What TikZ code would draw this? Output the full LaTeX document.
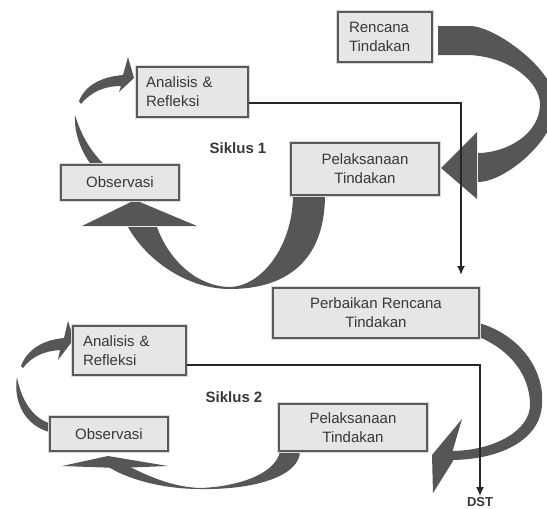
\documentclass[tikz,border=0pt]{standalone}
\usepackage{fontspec}
\setmainfont{Liberation Sans}
\usetikzlibrary{arrows.meta}
\definecolor{boxfill}{HTML}{E6E6E6}
\definecolor{boxedge}{HTML}{5A5A5A}
\definecolor{arrgray}{HTML}{565656}
\definecolor{linecol}{HTML}{262626}
\definecolor{txt}{HTML}{383838}
\begin{document}
\begin{tikzpicture}[x=1pt,y=-1pt,
  box/.style={fill=boxfill, draw=boxedge, line width=1.3pt,
    preaction={draw=black!15, line width=3.5pt},
    inner sep=0pt, font=\fontsize{15}{19}\selectfont, text=txt, align=center},
  leftbox/.style={box, align=left},
  bigarrow/.style={fill=arrgray},
  conn/.style={draw=linecol, line width=1.9pt, -{Latex[length=9pt,width=8pt]}},
  lbl/.style={font=\fontsize{15}{18}\selectfont\bfseries, text=txt}
]
\useasboundingbox (0,0) rectangle (547,509);

% ---- big curved arrows (drawn first) ----
% Rencana -> Pelaksanaan (siklus 1)
\fill[bigarrow] (438,26) -- (470,26) .. controls (495,26) and (556,70) .. (556,104)
  .. controls (556,140) and (505,182) .. (478,182) -- (478,153)
  .. controls (505,153) and (540,135) .. (540,104)
  .. controls (540,85) and (515,58) .. (470,55) -- (438,55) -- cycle;
\fill[bigarrow] (441,168) -- (477,132) -- (477,199) -- cycle;

% Pelaksanaan -> Observasi (siklus 1)
\fill[bigarrow] (325,195) .. controls (325,262) and (285,289) .. (230,289)
  .. controls (185,289) and (145,258) .. (128,227) -- (157,227)
  .. controls (168,258) and (195,286) .. (229,287)
  .. controls (262,287) and (293,245) .. (293,195) -- cycle;
\fill[bigarrow] (82,226) -- (135,200) -- (197,226) -- cycle;

% Observasi -> Analisis (siklus 1)
\fill[bigarrow] (92,166) .. controls (80,150) and (74,132) .. (75,115)
  .. controls (80,132) and (90,152) .. (106,166) -- cycle;
\fill[bigarrow] (79,101) .. controls (85,86) and (100,77) .. (123,75) -- (128,57)
  -- (134,78) -- (119,92) -- (121,86) .. controls (103,86) and (90,93) .. (81,104) -- cycle;

% Perbaikan -> Pelaksanaan (siklus 2)
\fill[bigarrow] (479,323) .. controls (520,335) and (545,370) .. (542,405)
  .. controls (540,440) and (500,460) .. (450,460) -- (450,451)
  .. controls (495,451) and (530,430) .. (530,405)
  .. controls (530,375) and (510,350) .. (479,337) -- cycle;
\fill[bigarrow] (432,455) -- (462,419) -- (452,453) -- (453,461) -- (433,493) -- cycle;

% Pelaksanaan -> Observasi (siklus 2)
\fill[bigarrow] (300,451) .. controls (300,476) and (255,490) .. (200,489)
  .. controls (160,489) and (125,478) .. (107,466) -- (128,466)
  .. controls (148,476) and (172,487) .. (200,488)
  .. controls (235,487) and (276,475) .. (280,451) -- cycle;
\fill[bigarrow] (62,466) -- (108,456) -- (168,466) -- (118,468) -- cycle;

% Observasi -> Analisis (siklus 2)
\fill[bigarrow] (17,377) .. controls (13,402) and (25,425) .. (49,432) -- (49,423)
  .. controls (33,418) and (21,400) .. (17,377) -- cycle;
\fill[bigarrow] (21,366) .. controls (27,350) and (42,340) .. (64,338) -- (68,321)
  -- (74,339) -- (58,360) -- (60,350) .. controls (45,351) and (32,356) .. (23,368) -- cycle;

% ---- boxes ----
\node[leftbox, minimum height=50pt, text width=72pt, inner xsep=11pt] (ren) at (385,37) {Rencana\\Tindakan};
\node[leftbox, minimum height=50pt, text width=93pt, inner xsep=9pt] (an1) at (192.5,92) {Analisis \&\\Refleksi};
\node[box, minimum width=118pt, minimum height=35pt] (obs1) at (120,182.5) {Observasi};
\node[box, minimum width=148pt, minimum height=52pt] (pel1) at (365,169) {Pelaksanaan\\Tindakan};
\node[box, minimum width=206pt, minimum height=50pt] (perb) at (376,313) {Perbaikan Rencana\\Tindakan};
\node[leftbox, minimum height=49pt, text width=93pt, inner xsep=10pt] (an2) at (129.5,350.5) {Analisis \&\\Refleksi};
\node[box, minimum width=118pt, minimum height=34pt] (obs2) at (109,434) {Observasi};
\node[box, minimum width=148pt, minimum height=47pt] (pel2) at (353,427.5) {Pelaksanaan\\Tindakan};

\node[lbl] (sik1) at (238,148) {Siklus 1};
\node[lbl] (sik2) at (234,397) {Siklus 2};
\node[lbl, font=\fontsize{13}{15}\selectfont\bfseries, inner sep=1pt] (dst) at (480,502) {DST};

% ---- connectors ----
\coordinate (l1) at (0,103);
\coordinate (t1) at (461,275);
\coordinate (l2) at (0,365);
\draw[conn] (an1.east |- l1) -| (t1);
\draw[conn] (an2.east |- l2) -| (dst.north);
\end{tikzpicture}
\end{document}
